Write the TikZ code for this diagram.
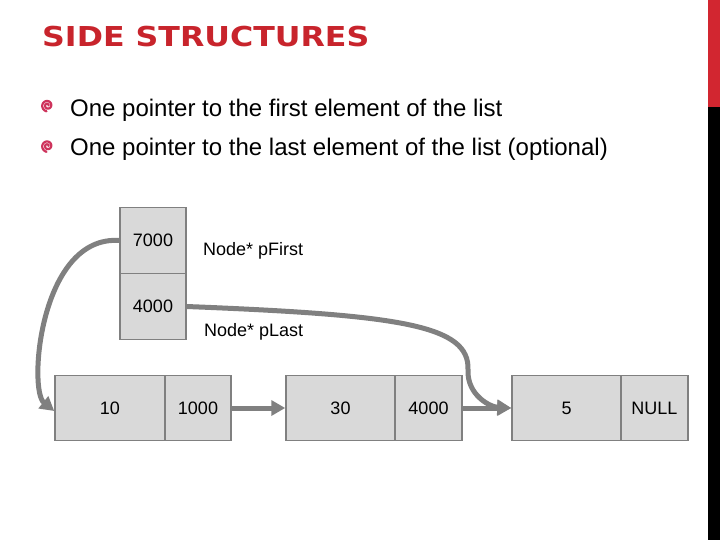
\documentclass[tikz,border=0pt]{standalone}
\usepackage{fontspec}
\setmainfont{Liberation Sans}
\newfontfamily\titlefont{DejaVu Sans}
\usetikzlibrary{arrows.meta}
\definecolor{titlered}{RGB}{200,36,44}
\definecolor{barred}{RGB}{210,38,48}
\definecolor{boxfill}{RGB}{217,217,217}
\definecolor{boxline}{RGB}{128,128,128}
\definecolor{conncol}{RGB}{128,128,128}
\definecolor{spiral}{RGB}{206,52,92}
\tikzset{
  cell/.style={draw=boxline, fill=boxfill, line width=1.5pt, inner sep=0pt,
    minimum height=65pt, font=\fontsize{18}{20}\selectfont},
  lbl/.style={inner sep=0pt, anchor=base west, font=\fontsize{18}{20}\selectfont},
  conn/.style={draw=conncol, line width=5pt, -{Triangle[length=14pt,width=15pt]}},
  bullettext/.style={inner sep=0pt, anchor=base west, font=\fontsize{24}{28}\selectfont},
  spiralmark/.style={draw=spiral, line width=2.2pt, line cap=round}
}
\begin{document}
\begin{tikzpicture}[x=1pt, y=-1pt]
\useasboundingbox (0,0) rectangle (720,540);
\fill[white] (0,0) rectangle (720,540);
% side bar
\fill[barred] (708,0) rectangle (720,107);
\fill[black] (708,107) rectangle (720,540);
% title
\node[inner sep=0pt, anchor=base west, text=titlered,
  font=\fontsize{27.4}{32}\selectfont\titlefont\bfseries] (title) at (42,46.7)
  {\scalebox{1.155}[1]{SIDE STRUCTURES}};
% bullets
\draw[spiralmark] plot[domain=0:620, samples=90, variable=\t]
  ({47.5+(0.9+\t/125)*cos(\t)}, {105.5-(0.9+\t/125)*sin(\t)});
\draw[spiralmark] plot[domain=0:620, samples=90, variable=\t]
  ({47.5+(0.9+\t/125)*cos(\t)}, {146-(0.9+\t/125)*sin(\t)});
\node[bullettext] (b1) at (70,116.5) {One pointer to the first element of the list};
\node[bullettext] (b2) at (70,156) {One pointer to the last element of the list (optional)};
% side structure boxes
\node[cell, minimum width=66pt, minimum height=66pt] (pf) at (153,240.5) {7000};
\node[cell, minimum width=66pt, minimum height=66pt] (pl) at (153,306.5) {4000};
\node[lbl] (lf) at (203,255.7) {Node* pFirst};
\node[lbl] (ll) at (204,336.7) {Node* pLast};
% list nodes
\node[cell, minimum width=110pt] (n1d) at (110,408) {10};
\node[cell, minimum width=66pt] (n1p) at (198,408) {1000};
\node[cell, minimum width=109pt] (n2d) at (340.5,408) {30};
\node[cell, minimum width=67pt] (n2p) at (428.5,408) {4000};
\node[cell, minimum width=109pt] (n3d) at (566.5,408) {5};
\node[cell, minimum width=67pt] (n3p) at (654.5,408) {NULL};
% connectors
\draw[conn] (n1p.east) -- (n2d.west);
\draw[conn] (n2p.east) -- (n3d.west);
\draw[conn] (pf.west) .. controls (40,235) and (28,390) .. ([yshift=-3pt]n1d.west);
\draw[conn] (pl.east) .. controls (400,315) and (470,325) .. (468,370)
  .. controls (467,395) and (490,407) .. (n3d.west);
\end{tikzpicture}
\end{document}
